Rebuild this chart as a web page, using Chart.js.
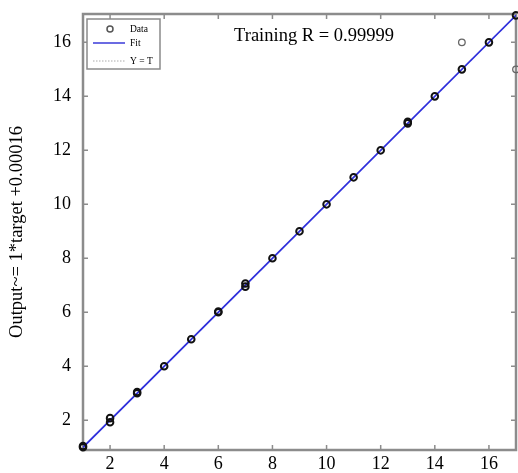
<!DOCTYPE html>
<html>
<head>
<meta charset="utf-8">
<script src="https://cdn.jsdelivr.net/npm/chart.js@4"></script>
<style>
    html, body { margin: 0; padding: 0; background: #fff; }
    #wrap { width: 518px; height: 473px; }
</style>
</head>
<body>
<div id="wrap"><canvas id="regChart"></canvas></div>
<script>
// targets and network outputs (duplicates sit on top of each other)
const targetX = [1, 1, 2, 2, 3, 3, 4, 5, 6, 6, 7, 7, 8, 9, 10, 11, 12, 13, 13, 14, 15, 15, 16, 17, 17];
const outputY = [1, 1.05, 1.93, 2.08, 3, 3.05, 4, 5, 6, 6.03, 6.95, 7.07, 8, 9, 10, 11, 12, 13, 13.06, 14, 15, 16, 16, 17, 15];

// fitted line and identity line end points
const lineX = [1, 17];
const fitY = [1.00016, 17.00016];
const identY = [1, 17];

const xTicks = [2, 4, 6, 8, 10, 12, 14, 16];
const yTicks = [2, 4, 6, 8, 10, 12, 14, 16];

const titleText = 'Training R = 0.99999';
const yLabel = 'Output~= 1*target +0.00016';
const legendLabels = ['Data', 'Fit', 'Y = T'];

const serif = "'Liberation Serif', 'Times New Roman', serif";

const toPoints = (xs, ys) => xs.map((x, i) => ({ x: x, y: ys[i] }));

// box, inward ticks, title and legend in the MATLAB style
const boxPlugin = {
    id: 'boxPlugin',
    beforeDatasetsDraw(chart) {
        const { ctx, chartArea: a, scales } = chart;
        ctx.save();
        ctx.strokeStyle = '#8c8c8c';
        ctx.lineWidth = 1.5;
        const tl = 5;
        ctx.beginPath();
        scales.x.ticks.forEach(t => {
            const px = scales.x.getPixelForValue(t.value);
            ctx.moveTo(px, a.bottom); ctx.lineTo(px, a.bottom - tl);
            ctx.moveTo(px, a.top); ctx.lineTo(px, a.top + tl);
        });
        scales.y.ticks.forEach(t => {
            const py = scales.y.getPixelForValue(t.value);
            ctx.moveTo(a.left, py); ctx.lineTo(a.left + tl, py);
            ctx.moveTo(a.right, py); ctx.lineTo(a.right - tl, py);
        });
        ctx.stroke();
        ctx.lineWidth = 2.5;
        ctx.strokeRect(a.left, a.top, a.right - a.left, a.bottom - a.top);
        ctx.restore();
    },
    afterDraw(chart) {
        const { ctx, chartArea: a } = chart;
        ctx.save();
        // title inside the axes
        ctx.fillStyle = '#000';
        ctx.font = '18.5px ' + serif;
        ctx.textAlign = 'center';
        ctx.textBaseline = 'alphabetic';
        ctx.fillText(titleText, a.left + 231, a.top + 27);

        // legend box
        const lx = a.left + 4, ly = a.top + 5, lw = 73, lh = 50;
        ctx.fillStyle = '#fff';
        ctx.fillRect(lx, ly, lw, lh);
        ctx.strokeStyle = '#8a8a8a';
        ctx.lineWidth = 1.5;
        ctx.strokeRect(lx, ly, lw, lh);

        ctx.font = '9.5px ' + serif;
        ctx.textAlign = 'left';
        ctx.textBaseline = 'middle';
        const rows = [ly + 10, ly + 24, ly + 42];
        // data marker
        ctx.strokeStyle = '#555';
        ctx.lineWidth = 1.5;
        ctx.beginPath();
        ctx.arc(lx + 23, rows[0], 3, 0, Math.PI * 2);
        ctx.stroke();
        // fit line
        ctx.strokeStyle = '#3a3ad8';
        ctx.lineWidth = 1.5;
        ctx.beginPath();
        ctx.moveTo(lx + 6, rows[1]); ctx.lineTo(lx + 38, rows[1]);
        ctx.stroke();
        // identity dotted line
        ctx.strokeStyle = '#aaa';
        ctx.lineWidth = 1;
        ctx.setLineDash([1.5, 1.5]);
        ctx.beginPath();
        ctx.moveTo(lx + 6, rows[2]); ctx.lineTo(lx + 38, rows[2]);
        ctx.stroke();
        ctx.setLineDash([]);

        ctx.fillStyle = '#000';
        legendLabels.forEach((lab, i) => ctx.fillText(lab, lx + 43, rows[i]));
        ctx.restore();
    }
};

const ctx = document.getElementById('regChart');

new Chart(ctx, {
    type: 'scatter',
    data: {
        datasets: [
            {
                label: legendLabels[0],
                data: toPoints(targetX, outputY),
                // off-line points are drawn lighter, like in the original
                borderColor: (c) => {
                    const p = c.raw;
                    return p && Math.abs(p.x - p.y) > 0.5 ? '#666' : '#111';
                },
                backgroundColor: 'rgba(0,0,0,0)',
                borderWidth: (c) => {
                    const p = c.raw;
                    return p && Math.abs(p.x - p.y) > 0.5 ? 1.3 : 2;
                },
                pointRadius: 3.3,
                clip: 8
            },
            {
                label: legendLabels[1],
                data: toPoints(lineX, fitY),
                showLine: true,
                borderColor: '#2f2fdc',
                borderWidth: 1.7,
                pointRadius: 0
            },
            {
                label: legendLabels[2],
                data: toPoints(lineX, identY),
                showLine: true,
                borderColor: '#999',
                borderDash: [2, 2],
                borderWidth: 1,
                pointRadius: 0
            }
        ]
    },
    options: {
        responsive: true,
        maintainAspectRatio: false,
        animation: false,
        layout: { autoPadding: false, padding: { top: 14, right: 2, left: 0, bottom: 0 } },
        plugins: {
            legend: { display: false },
            tooltip: { enabled: false }
        },
        scales: {
            x: {
                type: 'linear',
                min: 1,
                max: 17,
                afterBuildTicks: (s) => { s.ticks = xTicks.map(v => ({ value: v })); },
                afterFit: (s) => { s.height = 23; s.paddingLeft = 0; s.paddingRight = 0; },
                border: { display: false },
                grid: { display: false, drawTicks: false },
                ticks: { color: '#000', padding: 3, font: { family: serif, size: 18 } }
            },
            y: {
                type: 'linear',
                min: 0.9,
                max: 17.05,
                afterBuildTicks: (s) => { s.ticks = yTicks.map(v => ({ value: v })); },
                afterFit: (s) => { s.width = 83; s.paddingTop = 0; s.paddingBottom = 0; },
                border: { display: false },
                grid: { display: false, drawTicks: false },
                title: {
                    display: true,
                    text: yLabel,
                    color: '#000',
                    font: { family: serif, size: 18.5 },
                    padding: { top: 6, bottom: 0 }
                },
                ticks: { color: '#000', padding: 12, font: { family: serif, size: 18 } }
            }
        }
    },
    plugins: [boxPlugin]
});
</script>
</body>
</html>
